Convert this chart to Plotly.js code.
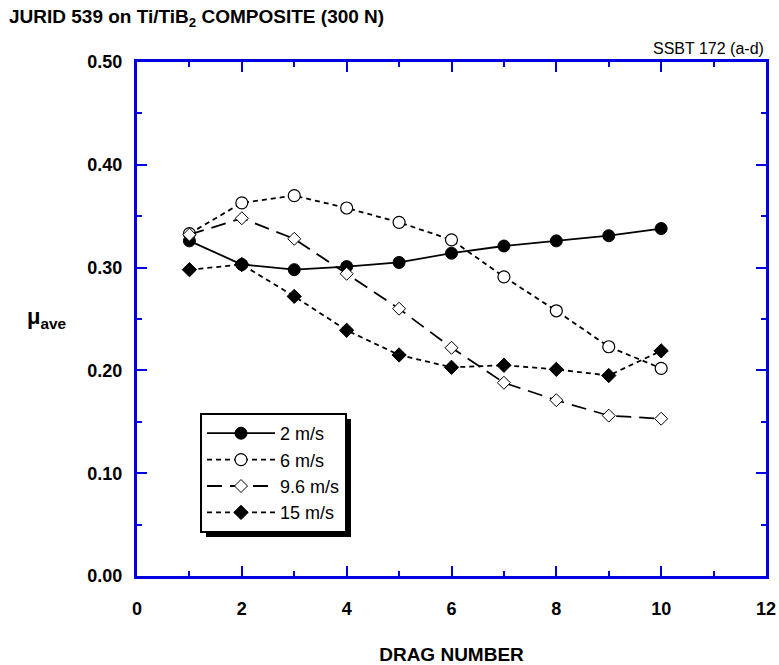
<!DOCTYPE html>
<html><head><meta charset="utf-8">
<script src="https://cdn.plot.ly/plotly-3.0.1.min.js"></script>
<style>body{margin:0;padding:0;background:#fff}#chart{width:779px;height:665px}</style>
</head><body><div id="chart"></div>
<script>
const drag = [1,2,3,4,5,6,7,8,9,10];
const s2 = [0.326,0.303,0.298,0.301,0.305,0.314,0.321,0.326,0.331,0.338];
const s6 = [0.333,0.363,0.370,0.358,0.344,0.327,0.291,0.258,0.223,0.202];
const s96 = [0.332,0.348,0.328,0.294,0.260,0.222,0.188,0.171,0.156,0.153];
const s15 = [0.298,0.303,0.272,0.239,0.215,0.203,0.205,0.201,0.195,0.219];
const names = ['2 m/s','6 m/s','9.6 m/s','15 m/s'];
const blue = 'rgb(0,0,225)';
const font = 'Liberation Sans, Arial, sans-serif';
const traces = [
 {x:drag,y:s2,name:names[0],mode:'lines+markers',line:{color:'black',width:1.8,dash:'solid'},
  marker:{symbol:'circle',size:12,color:'black',line:{color:'black',width:1}}},
 {x:drag,y:s6,name:names[1],mode:'lines+markers',line:{color:'black',width:1.8,dash:'5px,4px'},
  marker:{symbol:'circle',size:12,color:'white',line:{color:'black',width:1.2}}},
 {x:drag,y:s96,name:names[2],mode:'lines+markers',line:{color:'black',width:1.8,dash:'15px,8px'},
  marker:{symbol:'diamond',size:10,color:'white',line:{color:'black',width:1}}},
 {x:drag,y:s15,name:names[3],mode:'lines+markers',line:{color:'black',width:1.8,dash:'5px,4px'},
  marker:{symbol:'diamond',size:11,color:'black',line:{color:'black',width:1}}}
];
const axisCommon = {showline:true,linecolor:blue,linewidth:3,mirror:'allticks',ticks:'inside',
  tickcolor:blue,tickwidth:2,ticklen:10,showgrid:false,zeroline:false,automargin:false,
  tickfont:{family:font,size:18,color:'black',weight:'bold'}};
const layout = {
  width:779,height:665,margin:{l:137,r:13,t:62,b:89,autoexpand:false},
  paper_bgcolor:'white',plot_bgcolor:'white',showlegend:true,
  font:{family:font,color:'black'},
  xaxis:Object.assign({},axisCommon,{range:[0,12],dtick:2,tick0:0,ticklabelstandoff:14,
    minor:{ticks:'inside',ticklen:5,tickwidth:2,tickcolor:blue,dtick:1,showgrid:false},
    title:{text:'<b>DRAG NUMBER</b>',font:{family:font,size:19},standoff:42}}),
  yaxis:Object.assign({},axisCommon,{range:[0,0.5],dtick:0.1,tick0:0,tickformat:'.2f',ticklabelstandoff:8,
    minor:{ticks:'inside',ticklen:5,tickwidth:2,tickcolor:blue,dtick:0.05,showgrid:false}}),
  legend:{x:(200-137)/629,y:(576-413)/514,xref:'paper',yref:'paper',xanchor:'left',yanchor:'top',
    bgcolor:'white',bordercolor:'black',borderwidth:2,
    font:{family:font,size:18,color:'black'},tracegroupgap:0,itemwidth:68},
  annotations:[
    {text:'<b>JURID 539 on Ti/TiB<sub>2</sub> COMPOSITE (300 N)</b>',xref:'paper',yref:'paper',
     x:-130/629,y:1+44/514,xanchor:'left',yanchor:'middle',showarrow:false,font:{family:font,size:19}},
    {text:'SSBT 172 (a-d)',xref:'paper',yref:'paper',x:1,y:1+14/514,xanchor:'right',yanchor:'middle',
     showarrow:false,font:{family:font,size:16}},
    {text:'<b>μ</b><sub><b>ave</b></sub>',xref:'paper',yref:'paper',x:-112/629,y:(576-318)/514,
     xanchor:'left',yanchor:'middle',showarrow:false,font:{family:font,size:22}}
  ]
};
Plotly.newPlot('chart',traces,layout,{displayModeBar:false,staticPlot:true}).then(()=>{
  const lg = document.querySelector('.legend .bg') || document.querySelector('.legend');
  if(!lg) return;
  const bb = lg.getBoundingClientRect();
  const cb = document.getElementById('chart').getBoundingClientRect();
  const x0 = (bb.left-cb.left+5-137)/629*12, x1=(bb.right-cb.left+5-137)/629*12;
  const y0 = 0.5-(bb.top-cb.top+5-62)/514*0.5, y1=0.5-(bb.bottom-cb.top+5-62)/514*0.5;
  Plotly.relayout('chart',{shapes:[{type:'rect',xref:'x',yref:'y',x0:x0,x1:x1,y0:y0,y1:y1,
    fillcolor:'black',line:{width:0},layer:'above'}]});
});
</script></body></html>
